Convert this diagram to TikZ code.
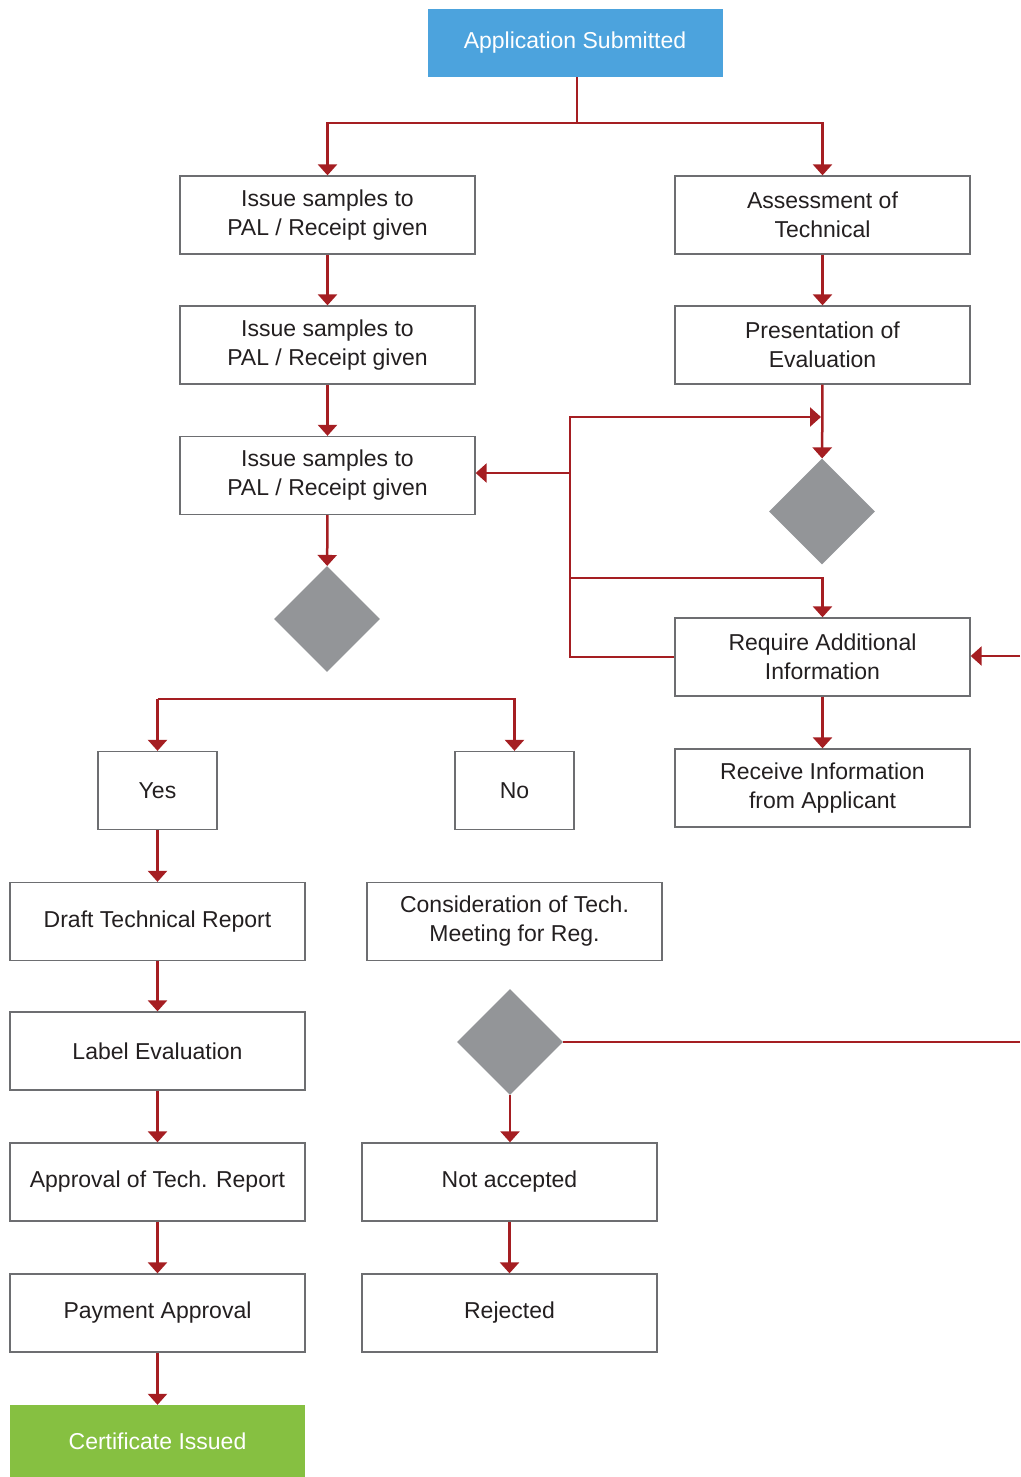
\documentclass[tikz,border=0pt]{standalone}
\usepackage{fontspec}
\setmainfont{Liberation Sans}
\usetikzlibrary{shapes.geometric,arrows.meta}
\definecolor{flowred}{HTML}{A51E22}
\definecolor{boxgray}{HTML}{6D6E71}
\definecolor{diagray}{HTML}{939598}
\definecolor{startblue}{HTML}{4CA3DD}
\definecolor{endgreen}{HTML}{86C041}
\definecolor{txt}{HTML}{231F20}

\begin{document}
\begin{tikzpicture}[x=1pt, y=-1pt,
  font=\fontsize{23}{29}\selectfont,
  box/.style={rectangle, draw=boxgray, line width=1.3pt, text=txt, align=center,
    minimum width=295pt, minimum height=78pt, inner sep=0pt},
  small/.style={box, minimum width=119pt},
  term/.style={rectangle, text=white, align=center, minimum width=295pt, inner sep=0pt},
  dec/.style={diamond, fill=diagray, minimum width=106pt, minimum height=106pt, inner sep=0pt},
  line/.style={draw=flowred, line width=2.5pt},
  arr/.style={line, -{Triangle[width=19pt,length=11pt]}}]
  \useasboundingbox (0,0) rectangle (1020,1477);

  \node[term, fill=startblue, minimum height=68pt] (S) at (575,43) {Application Submitted};
  \node[box] (L1) at (327.5,215) {Issue samples to\\PAL / Receipt given};
  \node[box] (L2) at (327.5,345) {Issue samples to\\PAL / Receipt given};
  \node[box] (L3) at (327.5,475.5) {Issue samples to\\PAL / Receipt given};
  \node[dec] (D1) at (327,619) {};
  \node[box] (R1) at (822.5,215) {Assessment of\\Technical};
  \node[box] (R2) at (822.5,345) {Presentation of\\Evaluation};
  \node[dec] (D2) at (822,511.5) {};
  \node[box] (RA) at (822.5,657) {Require Additional\\Information};
  \node[box] (RI) at (822.5,788) {Receive Information\\from Applicant};
  \node[small] (Y) at (157.5,790.5) {Yes};
  \node[small] (N) at (514.5,790.5) {No};
  \node[box] (B1) at (157.5,921.5) {Draft Technical Report};
  \node[box] (B2) at (157.5,1051) {Label Evaluation};
  \node[box] (B3) at (157.5,1182) {Approval of Tech. Report};
  \node[box] (B4) at (157.5,1313) {Payment Approval};
  \node[term, fill=endgreen, minimum height=72pt] (C) at (157.5,1441) {Certificate Issued};
  \node[box] (CT) at (514.5,921.5) {Consideration of Tech.\\Meeting for Reg.};
  \node[dec] (D3) at (510,1042) {};
  \node[box] (NA) at (509.5,1182) {Not accepted};
  \node[box] (RJ) at (509.5,1313) {Rejected};

  % split after submission
  \coordinate (s1) at (577,123);
  \draw[line] (S.south -| s1) -- (s1);
  \draw[arr] (s1) -| (L1.north);
  \draw[arr] (s1) -| (R1.north);

  \draw[arr] (L1) -- (L2);
  \draw[arr] (L2) -- (L3);
  \draw[arr] (L3) -- (D1);
  \draw[arr] (R1) -- (R2);
  \draw[arr] (R2) -- (D2);
  \draw[arr] (RA) -- (RI);

  % loop back from additional information
  \coordinate (lp) at (570,417);
  \coordinate (lq) at (821,417);
  \coordinate (lm) at (570,473);
  \coordinate (ln) at (570,578);
  \draw[arr] (RA.west) -| (lp) -- (lq);
  \draw[arr] (lm) -- (lm -| L3.east);
  \draw[arr] (ln) -| (RA.north);

  \coordinate (e1) at (1020,656);
  \coordinate (e2) at (1020,1042);
  \draw[arr] (e1) -- (e1 -| RA.east);
  \draw[line] (D3.east) -- (e2);

  % yes / no
  \coordinate (y1) at (157.5,699);
  \coordinate (n1) at (514.5,699);
  \draw[arr] (y1) -- (Y.north);
  \draw[arr] (y1) -- (n1) -- (N.north);

  \draw[arr] (Y) -- (B1);
  \draw[arr] (B1) -- (B2);
  \draw[arr] (B2) -- (B3);
  \draw[arr] (B3) -- (B4);
  \draw[arr] (B4) -- (C);
  \draw[arr] (D3) -- (D3 |- NA.north);
  \draw[arr] (NA) -- (RJ);
\end{tikzpicture}
\end{document}
